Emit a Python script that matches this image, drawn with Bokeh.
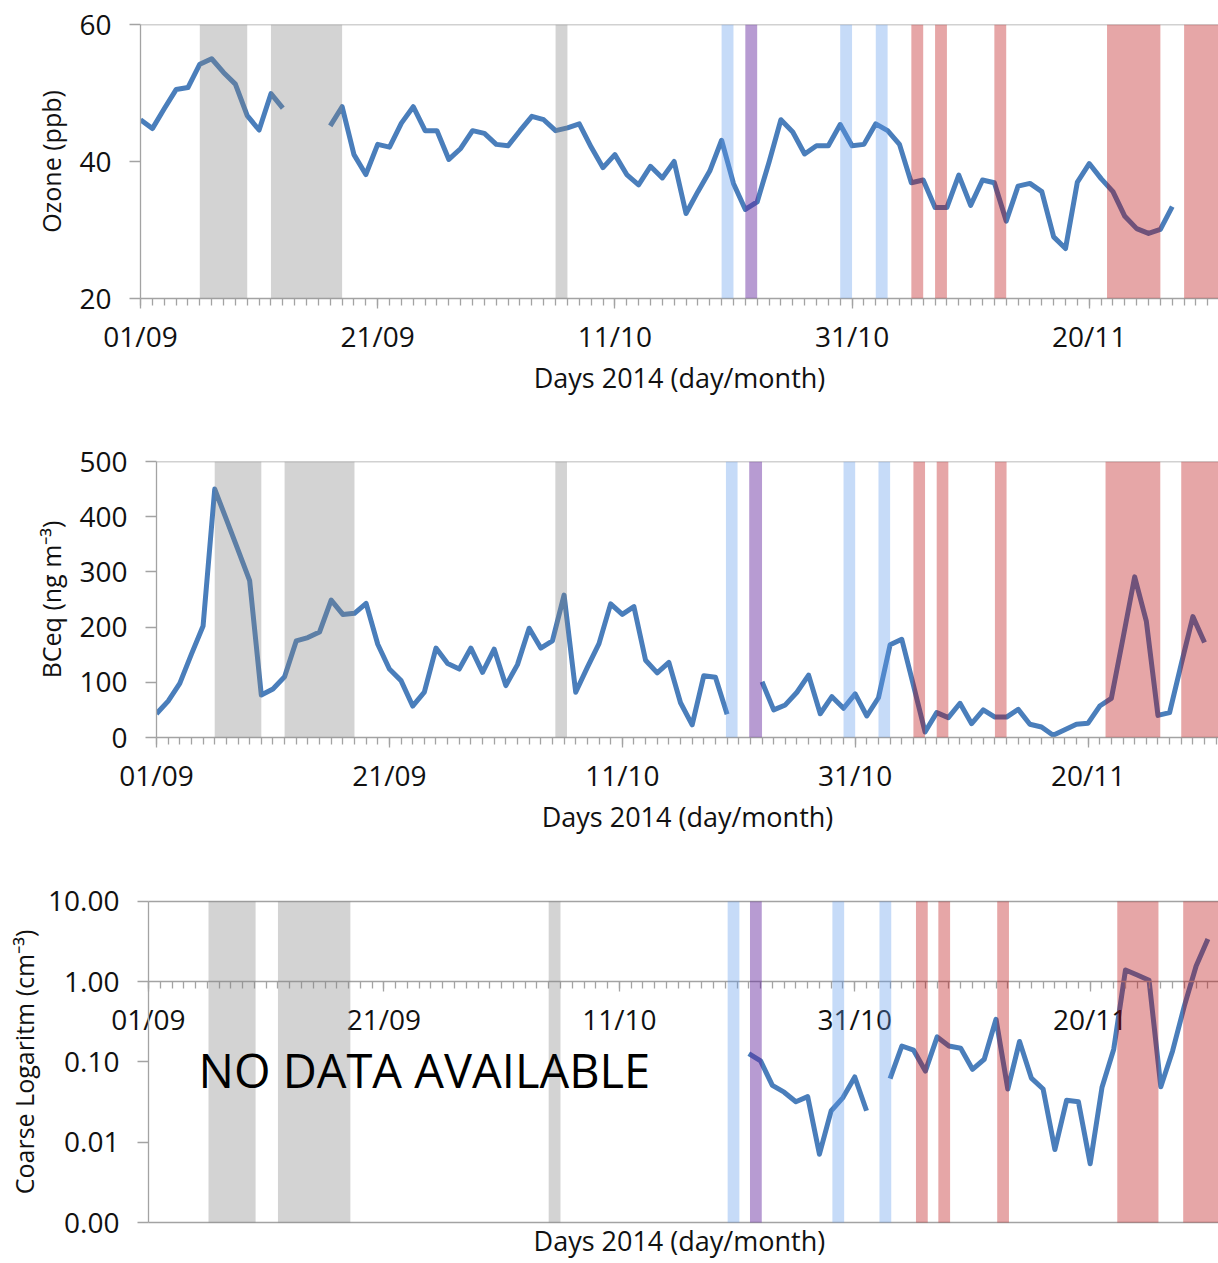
import math
from bokeh.plotting import figure
from bokeh.layouts import column
from bokeh.models import (FixedTicker, BoxAnnotation, Span, Label, LinearAxis,
                          NumeralTickFormatter, Range1d)
from bokeh.embed import file_html
from bokeh.resources import INLINE

nan = float("nan")

# ---------------- data (x = day index, 0 = 01/09/2014) ----------------
tick_days = [0, 20, 40, 60, 80]
tick_labels = ["01/09", "21/09", "11/10", "31/10", "20/11"]
minor_days = list(range(0, 92))

ozone_days = list(range(0, 88))
ozone_ppb = [46.1, 44.8, 47.7, 50.5, 50.8, 54.2, 55.0, 53.0, 51.3, 46.7,
             44.6, 49.9, 47.8, nan, nan, nan, 45.2, 48.0, 41.0, 38.1,
             42.5, 42.1, 45.6, 48.0, 44.5, 44.5, 40.3, 41.9, 44.5, 44.1,
             42.5, 42.3, 44.5, 46.6, 46.1, 44.5, 44.9, 45.5, 42.1, 39.1,
             41.0, 38.1, 36.6, 39.3, 37.6, 40.0, 32.4, 35.6, 38.6, 43.1,
             36.8, 33.0, 34.1, 39.9, 46.1, 44.3, 41.1, 42.3, 42.3, 45.4,
             42.3, 42.5, 45.5, 44.5, 42.5, 36.9, 37.3, 33.3, 33.3, 38.0,
             33.6, 37.3, 36.9, 31.3, 36.4, 36.8, 35.6, 29.0, 27.3, 37.0,
             39.7, 37.5, 35.6, 32.0, 30.2, 29.5, 30.1, 33.4]

bceq_days = list(range(0, 91))
bceq_ng = [43, 66, 98, 151, 202, 450, 395, 340, 284, 77,
           88, 110, 175, 181, 191, 249, 223, 225, 243, 169,
           124, 103, 57, 82, 162, 134, 124, 162, 118, 160,
           94, 132, 198, 162, 175, 258, 82, 127, 170, 242,
           223, 237, 140, 117, 136, 63, 23, 112, 109, 42,
           nan, nan, 101, 50, 59, 82, 113, 43, 74, 53,
           79, 39, 72, 168, 178, 95, 10, 45, 36, 62,
           25, 50, 37, 37, 51, 24, 19, 4, 14, 24,
           26, 57, 71, 180, 291, 211, 40, 45, 133, 219,
           172]

coarse_days = [51, 52, 53, 54, 55, 56, 57, 58, 59, 60, 61, 62,
               63, 64, 65, 66, 67, 68, 69, 70, 71, 72, 73, 74, 75, 76,
               77, 78, 79, 80, 81, 82, 83, 84, 85, 86, 87, 88, 89, 90]
coarse_cm3 = [0.127, 0.103, 0.051, 0.042, 0.032, 0.037, 0.0071, 0.0247, 0.036, 0.065, 0.0247, nan,
              0.062, 0.158, 0.14, 0.077, 0.205, 0.158, 0.148, 0.081, 0.108, 0.34, 0.046, 0.18, 0.063, 0.046,
              0.0081, 0.0334, 0.032, 0.0054, 0.048, 0.144, 1.40, 1.21, 1.04, 0.049, 0.137, 0.5, 1.57, 3.4]
coarse_axis = [0.001, 0.01, 0.1, 1, 10]

# event periods (day index start, end) as drawn on each panel
ozone_grey = [(5, 9), (11, 17), (35, 36)]
ozone_lightblue = [(49, 50), (59, 60), (62, 63)]
ozone_purple = [(51, 52)]
ozone_red = [(65, 66), (67, 68), (72, 73), (81.5, 86), (88, 92)]

bceq_grey = [(5, 9), (11, 17), (34.25, 35.25)]
bceq_lightblue = [(48.9, 49.9), (59, 60), (62, 63)]
bceq_purple = [(50.9, 52)]
bceq_red = [(65, 66), (67, 68), (72, 73), (81.5, 86.2), (88, 92)]

coarse_grey = [(5.1, 9.1), (11, 17.15), (34, 35)]
coarse_lightblue = [(49.2, 50.2), (58.1, 59.1), (62.1, 63.1)]
coarse_purple = [(51.1, 52.1)]
coarse_red = [(65.2, 66.2), (67.1, 68.1), (72.1, 73.1), (82.3, 85.8), (87.9, 92)]

X_TITLE = "Days 2014 (day/month)"

# ---------------- styles ----------------
FONT = "Open Sans"
TEXT_COLOR = "#111111"
LINE_COLOR = "#4a7ebb"
AXIS_COLOR = "#a3a3a3"
BAND_STYLE = {
    "grey": ("#808080", 0.35),
    "lightblue": ("#5c98eb", 0.35),
    "purple": ("#5f219b", 0.45),
    "red": ("#b80004", 0.35),
}
WIDTH = 1218
TICK_FONT = "28px"
XTITLE_FONT = "27px"
YTITLE_FONT = "25px"


def style_xaxis(xa):
    xa.ticker = FixedTicker(ticks=tick_days, minor_ticks=minor_days)
    xa.major_label_overrides = dict(zip(tick_days, tick_labels))
    xa.axis_line_color = AXIS_COLOR
    xa.axis_line_width = 1.3
    xa.major_tick_line_color = AXIS_COLOR
    xa.minor_tick_line_color = AXIS_COLOR
    xa.major_tick_line_width = 1.3
    xa.minor_tick_line_width = 1.3
    xa.major_tick_in = 0
    xa.major_tick_out = 10
    xa.minor_tick_in = 0
    xa.minor_tick_out = 7
    xa.major_label_text_font = FONT
    xa.major_label_text_font_size = TICK_FONT
    xa.major_label_text_color = TEXT_COLOR
    xa.major_label_standoff = 8
    xa.axis_label_text_font = FONT
    xa.axis_label_text_font_size = XTITLE_FONT
    xa.axis_label_text_font_style = "normal"
    xa.axis_label_text_color = TEXT_COLOR
    xa.axis_label_standoff = 1


def style_yaxis(ya, y_ticks, y_label):
    ya.ticker = FixedTicker(ticks=y_ticks, minor_ticks=[])
    ya.axis_line_color = AXIS_COLOR
    ya.axis_line_width = 1.3
    ya.major_tick_line_color = AXIS_COLOR
    ya.major_tick_line_width = 1.3
    ya.minor_tick_line_color = None
    ya.major_tick_in = 0
    ya.major_tick_out = 11
    ya.major_label_text_font = FONT
    ya.major_label_text_font_size = TICK_FONT
    ya.major_label_text_color = TEXT_COLOR
    ya.major_label_standoff = 18
    ya.axis_label = y_label
    ya.axis_label_text_font = FONT
    ya.axis_label_text_font_size = YTITLE_FONT
    ya.axis_label_text_font_style = "normal"
    ya.axis_label_text_color = TEXT_COLOR
    ya.axis_label_standoff = 8


def make_fig(height, top, left, bottom, x_start, x_end, y_lo, y_hi, log=False):
    p = figure(width=WIDTH, height=height,
               x_range=Range1d(x_start, x_end), y_range=Range1d(y_lo, y_hi),
               y_axis_type="log" if log else "linear",
               output_backend="svg", toolbar_location=None,
               min_border_left=left, min_border_right=0,
               min_border_top=top, min_border_bottom=bottom,
               outline_line_color=None, background_fill_color="white",
               border_fill_color="white", frame_align=False)
    p.grid.visible = False
    return p


def add_bands(p, grey, lightblue, purple, red, bottom=None, top=None):
    for name, spans in (("grey", grey), ("lightblue", lightblue),
                        ("purple", purple), ("red", red)):
        color, alpha = BAND_STYLE[name]
        for a, b in spans:
            p.add_layout(BoxAnnotation(left=a, right=b, bottom=bottom, top=top,
                                       fill_color=color, fill_alpha=alpha,
                                       line_color=None))


# ---------------- panel 1: ozone ----------------
p1 = make_fig(440, 24, 140, 142, 0, 90.9, 20, 60)
style_xaxis(p1.xaxis[0])
style_yaxis(p1.yaxis[0], [20, 40, 60], "Ozone (ppb)")
p1.xaxis.axis_label = X_TITLE
p1.add_layout(Span(location=60, dimension="width",
                   line_color=AXIS_COLOR, line_width=1.5))
p1.line(ozone_days, ozone_ppb, line_color=LINE_COLOR, line_width=5,
        line_join="round")
add_bands(p1, ozone_grey, ozone_lightblue, ozone_purple, ozone_red)

# ---------------- panel 2: BCeq ----------------
p2 = make_fig(440, 21, 156, 143, 0, 91.2, 0, 500)
style_xaxis(p2.xaxis[0])
style_yaxis(p2.yaxis[0], [0, 100, 200, 300, 400, 500], "BCeq (ng m\u207b\u00b3)")
p2.xaxis.axis_label = X_TITLE
p2.add_layout(Span(location=500, dimension="width",
                   line_color=AXIS_COLOR, line_width=1.5))
p2.line(bceq_days, bceq_ng, line_color=LINE_COLOR, line_width=5,
        line_join="round")
add_bands(p2, bceq_grey, bceq_lightblue, bceq_purple, bceq_red)

# ---------------- panel 3: coarse (log) ----------------
# The frame fills the whole figure: the y axis sits at day 0 and the x axis
# crosses the log axis at 1.00 (Excel style), so every label stays visible.
p3 = make_fig(381, 0, 0, 0, -12.57, 90.9, 0.000327, 18.2, log=True)
style_xaxis(p3.xaxis[0])
p3.xaxis.fixed_location = 1
p3.xaxis.bounds = (0, 92)
style_yaxis(p3.yaxis[0], coarse_axis, "Coarse Logaritm (cm\u207b\u00b3)")
p3.yaxis.fixed_location = 0
p3.yaxis.bounds = (coarse_axis[0], coarse_axis[-1])
p3.yaxis.formatter = NumeralTickFormatter(format="0.00")
p3.yaxis.axis_label_standoff = 4
for loc in (coarse_axis[-1], coarse_axis[0]):   # plot-area top / bottom lines
    p3.add_layout(LinearAxis(fixed_location=loc, bounds=(0, 92),
                             ticker=FixedTicker(ticks=[], minor_ticks=[]),
                             axis_line_color=AXIS_COLOR, axis_line_width=1.5,
                             major_tick_line_color=None,
                             minor_tick_line_color=None,
                             major_label_text_color=None), "below")
p3.line(coarse_days, coarse_cm3, line_color=LINE_COLOR, line_width=5,
        line_join="round")
add_bands(p3, coarse_grey, coarse_lightblue, coarse_purple, coarse_red,
          bottom=coarse_axis[0], top=coarse_axis[-1])
p3.add_layout(Label(x=4.25, y=0.079, text="NO DATA AVAILABLE",
                    text_font=FONT, text_font_size="47px",
                    text_baseline="middle", text_color="black"))
# x-axis title under the plot area
p3.add_layout(Label(x=45.1, y=0.0006, text=X_TITLE, text_align="center",
                    text_baseline="middle", text_font=FONT,
                    text_font_size=XTITLE_FONT, text_color=TEXT_COLOR))

layout = column(p1, p2, p3, spacing=0)
open("out.html", "w").write(file_html(layout, INLINE))
